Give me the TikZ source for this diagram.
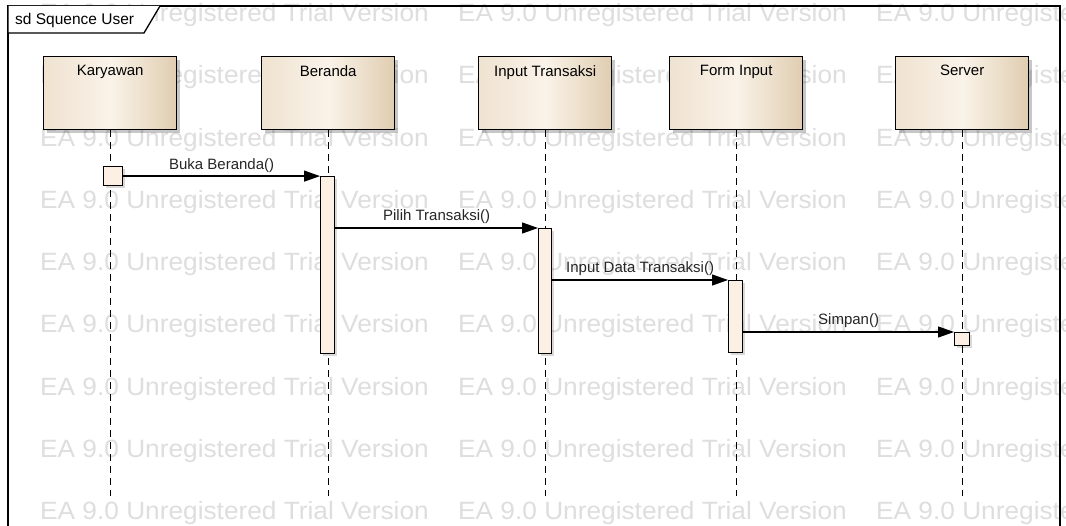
\documentclass[tikz,border=0pt]{standalone}
\usepackage{fontspec}
\setmainfont{Liberation Sans}
\usetikzlibrary{arrows.meta,shadows}

\definecolor{boxleft}{HTML}{EFE2D0}
\definecolor{boxmid}{HTML}{FAF3E9}
\definecolor{boxright}{HTML}{E0CDB1}
\definecolor{actfill}{HTML}{FBF0E3}
\definecolor{wmark}{HTML}{DEDEDE}

\tikzset{
  every node/.style={font=\fontsize{15}{18}\selectfont},
  wm/.style={anchor=base west, inner sep=0pt, text=wmark,
    font=\fontsize{25}{25}\selectfont},
  frame/.style={draw=black, line width=1.3pt},
  objbox/.style={draw=black, line width=1.4pt, left color=boxleft,
    right color=boxright, middle color=boxmid, minimum width=133pt,
    minimum height=73pt, inner sep=0pt, anchor=north west,
    drop shadow={shadow xshift=3pt, shadow yshift=-3pt, fill=black, opacity=0.22}},
  objlabel/.style={anchor=north, inner sep=0pt, yshift=-9pt},
  actbox/.style={draw=black, line width=1.2pt, fill=actfill, inner sep=0pt,
    anchor=north west,
    drop shadow={shadow xshift=2pt, shadow yshift=-2pt, fill=black, opacity=0.15}},
  lifeline/.style={line width=1.1pt, dash pattern=on 7pt off 5pt},
  msg/.style={line width=1.2pt, -{Triangle[length=16pt,width=11pt]}},
  msglabel/.style={midway, above, text=black!85}
}

\begin{document}
\begin{tikzpicture}[x=1pt,y=-1pt]
\useasboundingbox (0,0) rectangle (1066,526);
\fill[white] (0,0) rectangle (1066,526);

% tiled trial watermark behind the diagram
\begin{scope}
  \clip (0,0) rectangle (1066,526);
  \foreach \r in {0,...,8}{
    \foreach \c in {0,1,2}{
      \node[wm] (wm-\r-\c) at ({40+418*\c},{21.5+62.3*\r})
        {\scalebox{1.05}[1]{EA 9.0 Unregistered Trial Version}};
    }
  }
\end{scope}

% diagram frame with its name tab
\draw[frame] (8,530) -- (8,6) -- (1060,6) -- (1060,530);
\draw[frame, fill=white] (8,6) -- (8,33) -- (144,33) -- (160,6);
\node[anchor=west, inner sep=0pt, font=\fontsize{15.5}{18}\selectfont] (title) at (15,20) {sd Squence User};

% participants
\node[objbox, label={[objlabel]north:Karyawan}] (kar) at (43,56) {};
\node[objbox, label={[objlabel]north:Beranda}] (ber) at (261,56) {};
\node[objbox, label={[objlabel]north:Input Transaksi}] (inp) at (478,56) {};
\node[objbox, label={[objlabel]north:Form Input}] (frm) at (669,56) {};
\node[objbox, label={[objlabel]north:Server}] (srv) at (895,56) {};

% lifelines
\foreach \p in {kar,ber,inp,frm,srv}{
  \path (\p.south) ++(0,366) coordinate (\p End);
  \draw[lifeline] (\p.south) -- (\p End);
}

% activations
\node[actbox, minimum width=19pt, minimum height=19pt] (karAct) at (103,166) {};
\node[actbox, minimum width=14pt, minimum height=177pt] (berAct) at (320,176) {};
\node[actbox, minimum width=13pt, minimum height=125pt] (inpAct) at (538,228) {};
\node[actbox, minimum width=14pt, minimum height=72pt] (frmAct) at (728,280) {};
\node[actbox, minimum width=15pt, minimum height=13pt] (srvAct) at (954,332) {};

% messages
\draw[msg] (karAct.east) -- (karAct.east -| berAct.west)
  node[msglabel] (mBuka) {Buka Beranda()};
\draw[msg] (inpAct.north west -| berAct.east) -- (inpAct.north west)
  node[msglabel] (mPilih) {Pilih Transaksi()};
\draw[msg] (frmAct.north west -| inpAct.east) -- (frmAct.north west)
  node[msglabel] (mInput) {Input Data Transaksi()};
\draw[msg] (srvAct.north west -| frmAct.east) -- (srvAct.north west)
  node[msglabel] (mSimpan) {Simpan()};
\end{tikzpicture}
\end{document}
